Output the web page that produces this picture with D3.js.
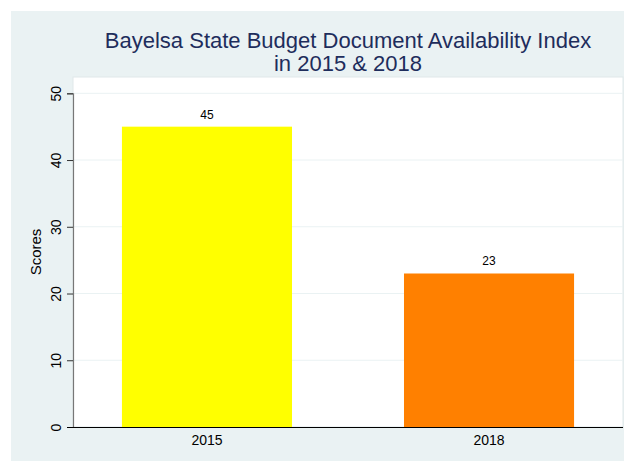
<!DOCTYPE html>
<html>
<head>
<meta charset="utf-8">
<script src="https://cdn.jsdelivr.net/npm/d3@7"></script>
<style>
  body { margin: 0; background: #fff; }
  text { font-family: "Liberation Sans", Arial, sans-serif; }
</style>
</head>
<body>
<script>
const years = ['2015', '2018'];
const scores = [45, 23];
const barColors = ['#ffff00', '#ff8000'];
const yTicks = [0, 10, 20, 30, 40, 50];

const WIDTH = 624;
const HEIGHT = 461;
const plot = { left: 73, right: 623, top: 77, bottom: 427 };

const svg = d3.select('body')
  .append('svg')
  .attr('width', WIDTH)
  .attr('height', HEIGHT);

// outer graph region
svg.append('rect')
  .attr('x', 11).attr('y', 11)
  .attr('width', WIDTH - 11).attr('height', HEIGHT - 11)
  .attr('fill', '#eaf2f3');

// plot region
svg.append('rect')
  .attr('x', plot.left).attr('y', plot.top)
  .attr('width', plot.right - plot.left).attr('height', plot.bottom - plot.top)
  .attr('fill', '#fff')
  .attr('stroke', '#dfe8ea');

const x = d3.scaleBand()
  .domain(years)
  .range([plot.left, plot.right])
  .paddingInner(0.397)
  .paddingOuter(0.1735);

const y = d3.scaleLinear()
  .domain([0, 50])
  .range([plot.bottom, 93.3]);

// gridlines
svg.append('g')
  .selectAll('line')
  .data(yTicks.slice(1))
  .enter()
  .append('line')
  .attr('x1', plot.left).attr('x2', plot.right)
  .attr('y1', d => y(d)).attr('y2', d => y(d))
  .attr('stroke', '#eaf2f3')
  .attr('stroke-width', 1);

// bars
svg.append('g')
  .selectAll('rect')
  .data(scores)
  .enter()
  .append('rect')
  .attr('x', (d, i) => x(years[i]))
  .attr('y', d => y(d))
  .attr('width', x.bandwidth())
  .attr('height', d => y(0) - y(d))
  .attr('fill', (d, i) => barColors[i]);

// value labels
svg.append('g')
  .selectAll('text')
  .data(scores)
  .enter()
  .append('text')
  .attr('x', (d, i) => x(years[i]) + x.bandwidth() / 2)
  .attr('y', d => y(d) - 8)
  .attr('text-anchor', 'middle')
  .attr('font-size', 12)
  .attr('fill', '#000')
  .text(d => d);

// y axis
const yAxis = svg.append('g')
  .attr('transform', `translate(${plot.left},0)`)
  .call(d3.axisLeft(y).tickValues(yTicks).tickSize(6).tickPadding(5));
yAxis.select('.domain').attr('stroke', '#777').attr('stroke-width', 1.2);
yAxis.selectAll('.tick line').attr('stroke', '#333');
yAxis.selectAll('.tick text')
  .attr('font-size', 14)
  .attr('fill', '#000')
  .attr('text-anchor', 'middle')
  .attr('transform', 'translate(-17,0) rotate(-90)')
  .attr('x', 0)
  .attr('dy', '0.35em');

// x axis
const xAxis = svg.append('g')
  .attr('transform', `translate(0,${plot.bottom})`)
  .call(d3.axisBottom(x).tickSize(0).tickPadding(8));
xAxis.select('.domain').attr('stroke', '#000').attr('stroke-width', 1.2)
  .attr('d', `M${plot.left - 6},0.5H${plot.right}`);
xAxis.selectAll('.tick text')
  .attr('font-size', 14)
  .attr('fill', '#000');

// y axis title
svg.append('text')
  .attr('transform', `translate(41,${(plot.top + plot.bottom) / 2}) rotate(-90)`)
  .attr('text-anchor', 'middle')
  .attr('font-size', 15)
  .attr('fill', '#000')
  .text('Scores');

// title
const title = svg.append('text')
  .attr('x', (plot.left + plot.right) / 2)
  .attr('text-anchor', 'middle')
  .attr('font-size', 22)
  .attr('fill', '#1e2d5c');
title.append('tspan').attr('x', (plot.left + plot.right) / 2).attr('y', 48)
  .text('Bayelsa State Budget Document Availability Index');
title.append('tspan').attr('x', (plot.left + plot.right) / 2).attr('y', 71)
  .text('in 2015 & 2018');
</script>
</body>
</html>
